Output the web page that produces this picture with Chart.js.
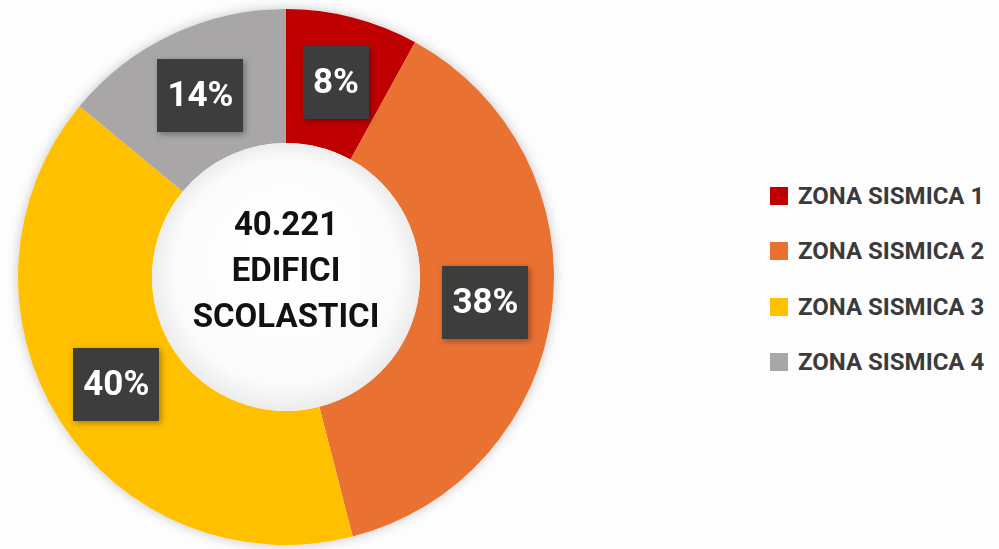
<!DOCTYPE html>
<html>
<head>
<meta charset="utf-8">
<script src="https://cdn.jsdelivr.net/npm/chart.js@4"></script>
<style>
  html, body { margin:0; padding:0; width:999px; height:549px; background:#fdfdfd; overflow:hidden; }
  #wrap { position:absolute; left:0; top:0; width:572px; height:549px; }
  #legend { position:absolute; left:770px; top:168px; margin:0; padding:0; list-style:none;
            font-family:Roboto, "Open Sans", sans-serif; font-weight:700; font-size:24px; color:#3b3b3b; }
  #legend li { height:55.5px; display:flex; align-items:center; white-space:nowrap; }
  #legend span.sw { display:inline-block; width:18px; height:18px; margin-right:10px; }
</style>
</head>
<body>
<div id="wrap"><canvas id="c"></canvas></div>
<ul id="legend"></ul>
<script>
const categories = ["ZONA SISMICA 1", "ZONA SISMICA 2", "ZONA SISMICA 3", "ZONA SISMICA 4"];
const percentages = [8, 38, 40, 14];
const sliceColors = ["#C00000", "#E97132", "#FFC000", "#A8A6A6"];
const centerLines = ["40.221", "EDIFICI", "SCOLASTICI"];

// HTML legend built from the arrays
const legendEl = document.getElementById('legend');
categories.forEach((c, i) => {
  const li = document.createElement('li');
  const sw = document.createElement('span');
  sw.className = 'sw';
  sw.style.background = sliceColors[i];
  li.appendChild(sw);
  li.appendChild(document.createTextNode(c));
  legendEl.appendChild(li);
});

const shadowPlugin = {
  id: 'ringShadow',
  beforeDatasetsDraw(chart) {
    const ctx = chart.ctx;
    const arc = chart.getDatasetMeta(0).data[0];
    if (!arc) return;
    ctx.save();
    ctx.beginPath();
    ctx.arc(arc.x, arc.y, arc.outerRadius, 0, Math.PI * 2);
    ctx.shadowColor = 'rgba(0,0,0,0.22)';
    ctx.shadowBlur = 12;
    ctx.fillStyle = '#ffffff';
    ctx.fill();
    ctx.restore();
  },
  afterDatasetsDraw(chart) {
    const ctx = chart.ctx;
    const meta = chart.getDatasetMeta(0);
    const arc0 = meta.data[0];
    const cx = arc0.x, cy = arc0.y, r = arc0.innerRadius;
    // inner white disc with soft gradient
    ctx.save();
    const g = ctx.createRadialGradient(cx, cy - r * 0.2, r * 0.2, cx, cy, r);
    g.addColorStop(0, '#ffffff');
    g.addColorStop(0.8, '#fbfbfb');
    g.addColorStop(1, '#ececec');
    ctx.beginPath();
    ctx.arc(cx, cy, r, 0, Math.PI * 2);
    ctx.fillStyle = g;
    ctx.fill();
    ctx.restore();

    // center text
    ctx.save();
    ctx.font = '700 33px Roboto, "Open Sans", sans-serif';
    ctx.fillStyle = '#111111';
    ctx.textAlign = 'center';
    ctx.textBaseline = 'middle';
    const lh = 46;
    centerLines.forEach((t, i) => {
      ctx.fillText(t, cx, cy - 50 + i * lh);
    });
    ctx.restore();

    // percentage boxes
    const ds = chart.data.datasets[0];
    meta.data.forEach((a, i) => {
      const p = a.getCenterPoint();
      const label = ds.data[i] + '%';
      ctx.save();
      ctx.font = '700 35px Roboto, "Open Sans", sans-serif';
      const tw = ctx.measureText(label).width;
      const bw = tw + 20, bh = 73;
      ctx.shadowColor = 'rgba(0,0,0,0.35)';
      ctx.shadowBlur = 6;
      ctx.shadowOffsetX = 2;
      ctx.shadowOffsetY = 2;
      ctx.fillStyle = '#3d3d3d';
      ctx.fillRect(Math.round(p.x - bw / 2), Math.round(p.y - bh / 2), Math.round(bw), bh);
      ctx.shadowColor = 'transparent';
      ctx.fillStyle = '#ffffff';
      ctx.textAlign = 'center';
      ctx.textBaseline = 'middle';
      ctx.fillText(label, p.x, p.y + 2);
      ctx.restore();
    });
  }
};

new Chart(document.getElementById('c'), {
  type: 'doughnut',
  data: {
    labels: categories,
    datasets: [{
      data: percentages,
      backgroundColor: sliceColors,
      borderWidth: 0,
      hoverOffset: 0
    }]
  },
  options: {
    responsive: true,
    maintainAspectRatio: false,
    animation: false,
    cutout: '50%',
    layout: { padding: { top: 9, bottom: 4, left: 18, right: 18 } },
    plugins: {
      legend: { display: false },
      tooltip: { enabled: false }
    }
  },
  plugins: [shadowPlugin]
});
</script>
</body>
</html>
